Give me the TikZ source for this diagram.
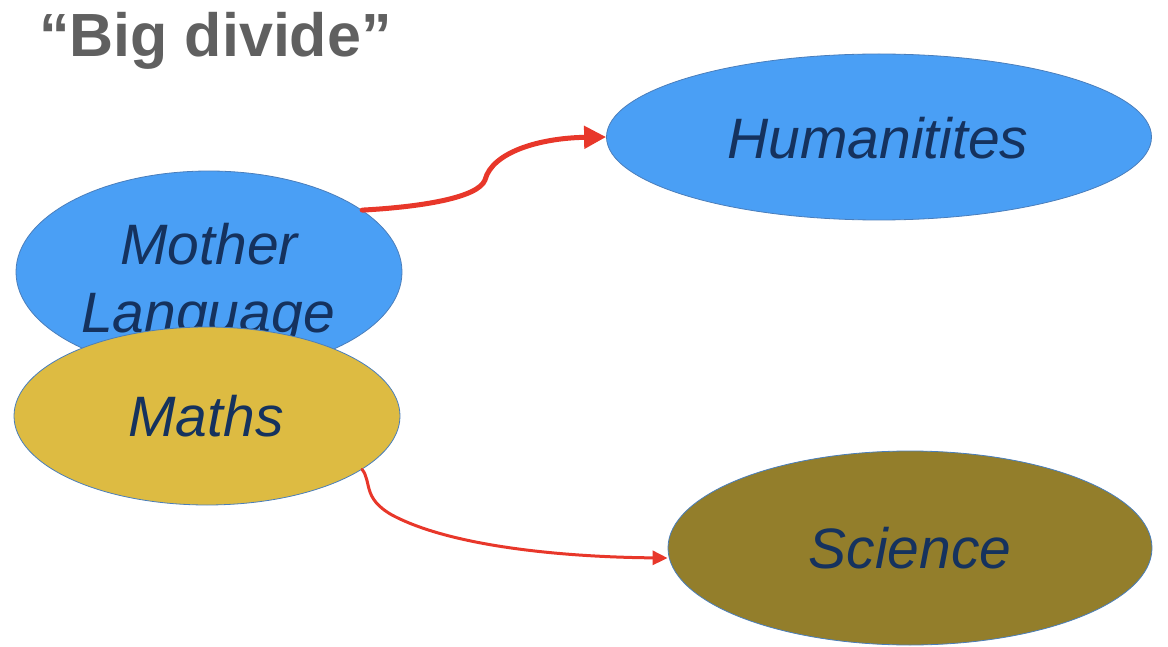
\documentclass[tikz,border=0pt]{standalone}
\usepackage{fontspec}
\setmainfont{Liberation Sans}
\usetikzlibrary{shapes.geometric,arrows.meta}
\definecolor{skyblue}{HTML}{4A9FF5}
\definecolor{goldfill}{HTML}{DDBB42}
\definecolor{olivefill}{HTML}{937E2B}
\definecolor{rimblue}{HTML}{4A7EBB}
\definecolor{inkblue}{HTML}{15325E}
\definecolor{titlegrey}{HTML}{606060}
\definecolor{linkred}{HTML}{E8372A}
\tikzset{
  blob/.style={ellipse, draw=rimblue, line width=0.8pt, inner sep=0pt},
  word/.style={anchor=base, text=inkblue, font=\fontsize{57}{60}\selectfont\itshape},
  link/.style={draw=linkred, line cap=round},
}
\begin{document}
\begin{tikzpicture}[x=1pt,y=-1pt]
\path[use as bounding box] (0,0) rectangle (1168,647);

% title
\node[anchor=base west, inner sep=0pt, text=titlegrey,
      font=\fontsize{61}{64}\selectfont\bfseries] (title) at (39,57) {“Big divide”};

% mother language
\node[blob, fill=skyblue, minimum width=386pt, minimum height=202pt] (ml) at (209,272) {};
\node[word] (mltop) at (209,265) {Mother};
\node[word] (mlbot) at (208,332) {Language};

% maths, drawn over the lower part of mother language
\node[blob, fill=goldfill, minimum width=386pt, minimum height=178pt] (maths) at (207,416) {};
\node[word] (mathslbl) at (206,436) {Maths};

% humanities
\node[blob, fill=skyblue, minimum width=545pt, minimum height=166pt] (hum) at (879,137) {};
\node[word] (humlbl) at (878,159) {Humanitites};

% science
\node[blob, fill=olivefill, minimum width=484pt, minimum height=194pt] (sci) at (910,548) {};
\node[word] (scilbl) at (910,568) {Science};

% connectors
\draw[link, line width=5pt, -{Triangle[length=22pt,width=22pt]}]
  (ml.22) .. controls (420,207) and (478,198) .. (485,180)
          .. controls (492,152) and (540,138) .. (hum.west);
\draw[link, line width=3pt, -{Triangle[length=15pt,width=14pt]}]
  (maths.-19) .. controls (372,482) and (362,498) .. (392,515)
              .. controls (450,546) and (560,557) .. (sci.west |- 0,558);
\end{tikzpicture}
\end{document}
